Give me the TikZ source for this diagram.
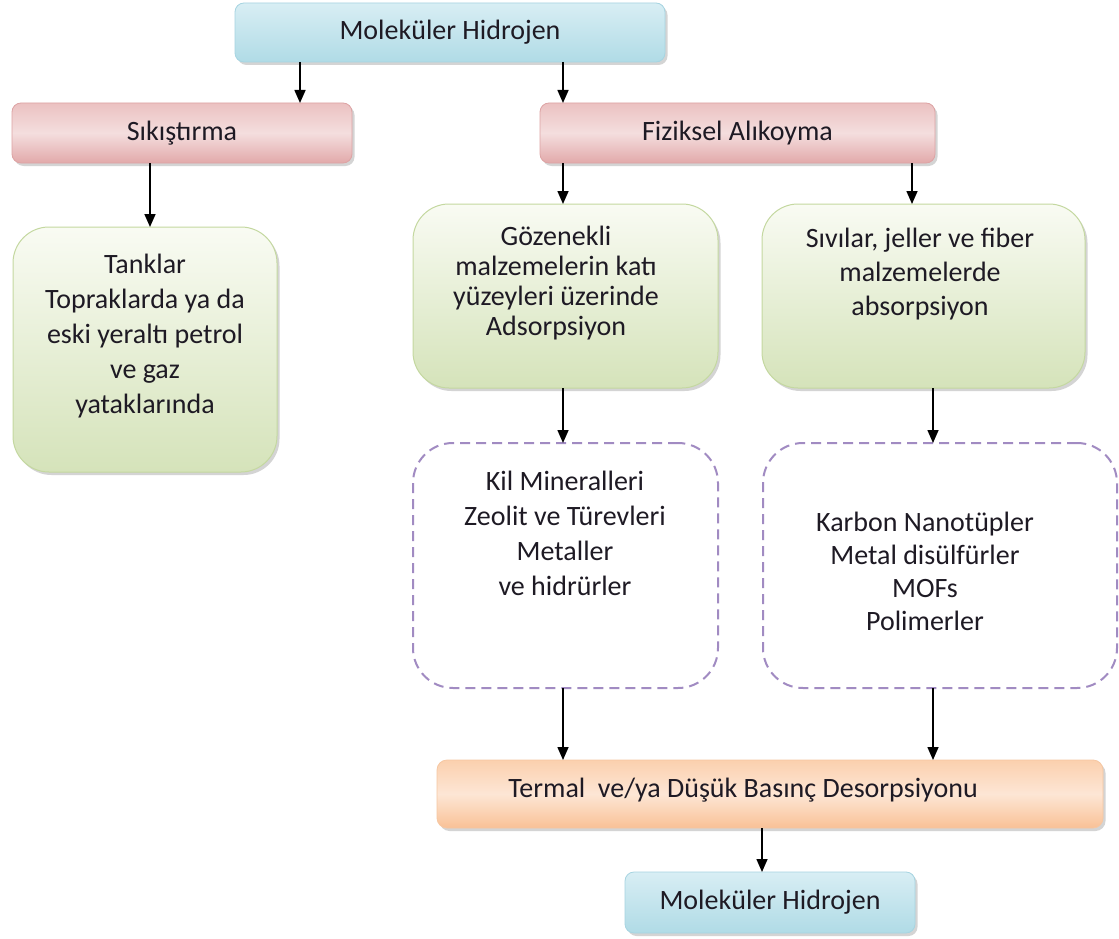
\documentclass[tikz,border=0pt]{standalone}
\usepackage{fontspec}
\setmainfont{Carlito}
\usetikzlibrary{shadows,arrows.meta}
\definecolor{txt}{HTML}{1E1A24}
\definecolor{bluetop}{HTML}{D8EEF4}
\definecolor{bluebot}{HTML}{B0DBE6}
\definecolor{blueline}{HTML}{A6D4E1}
\definecolor{redtop}{HTML}{EBC1C1}
\definecolor{redmid}{HTML}{F4DEDE}
\definecolor{redbot}{HTML}{E2A9AA}
\definecolor{redline}{HTML}{DDA3A4}
\definecolor{greentop}{HTML}{F9FBF3}
\definecolor{greenbot}{HTML}{D5E3BA}
\definecolor{greenline}{HTML}{C4D8A0}
\definecolor{orangetop}{HTML}{FBD0AE}
\definecolor{orangemid}{HTML}{FDE6D5}
\definecolor{orangebot}{HTML}{F9C196}
\definecolor{orangeline}{HTML}{F6C7A2}
\definecolor{purp}{HTML}{A18BC2}
\begin{document}
\begin{tikzpicture}[x=1pt,y=-1pt,
  every node/.style={inner sep=0pt,outer sep=0pt,text=txt,font=\fontsize{28}{35}\selectfont},
  shad/.style={drop shadow={shadow xshift=2.5pt,shadow yshift=-3pt,opacity=0.28,fill=black!60}},
  bluebox/.style={rectangle,rounded corners=9pt,draw=blueline,line width=0.8pt,top color=bluetop,bottom color=bluebot,shad},
  redbox/.style={rectangle,rounded corners=9pt,draw=redline,line width=0.8pt,top color=redtop,bottom color=redbot,middle color=redmid,shad},
  greenbox/.style={rectangle,rounded corners=36pt,draw=greenline,line width=1pt,top color=greentop,bottom color=greenbot,shad},
  dashbox/.style={rectangle,rounded corners=40pt,draw=purp,line width=2pt,dash pattern=on 10pt off 6pt},
  orangebox/.style={rectangle,rounded corners=10pt,draw=orangeline,line width=0.8pt,top color=orangetop,bottom color=orangebot,middle color=orangemid,shad},
  arr/.style={draw=black,line width=1.6pt,-{Triangle[width=11pt,length=13pt]}}
]
\useasboundingbox (0,0) rectangle (1119,939);
\fill[white] (0,0) rectangle (1119,939);
% boxes
\node[bluebox,minimum width=430pt,minimum height=59pt] (top) at (450,32.5) {Molek\"uler Hidrojen};
\node[redbox,minimum width=340pt,minimum height=60pt] (sik) at (182,133) {S\i k\i \c st\i rma};
\node[redbox,minimum width=395pt,minimum height=60pt] (fiz) at (737.5,133) {Fiziksel Al\i koyma};
\node[greenbox,minimum width=264pt,minimum height=245pt] (tank) at (145,349.5) {};
\node[greenbox,minimum width=305pt,minimum height=184pt] (goz) at (565.5,296) {};
\node[greenbox,minimum width=323pt,minimum height=184pt] (siv) at (923.5,296) {};
\node[dashbox,minimum width=305pt,minimum height=245pt] (kil) at (565.5,565.5) {};
\node[dashbox,minimum width=354pt,minimum height=245pt] (kar) at (940,565.5) {};
\node[orangebox,minimum width=666pt,minimum height=68pt] (ter) at (770,794) {};
\node[bluebox,minimum width=290pt,minimum height=61pt] (bot) at (770,902.5) {Molek\"uler Hidrojen};
% texts
\node[align=center] (tanktxt) at (145,336) {Tanklar\\Topraklarda ya da\\eski yeralt\i\ petrol\\ve gaz\\yataklar\i nda};
\node[align=center,font=\fontsize{28}{30}\selectfont] (goztxt) at (556,283) {G\"ozenekli\\malzemelerin kat\i\\y\"uzeyleri \"uzerinde\\Adsorpsiyon};
\node[align=center,font=\fontsize{28}{34}\selectfont] (sivtxt) at (920,274) {S\i v\i lar, jeller ve fiber\\malzemelerde\\absorpsiyon};
\node[align=center] (kiltxt) at (565,533) {Kil Mineralleri\\Zeolit ve T\"urevleri\\Metaller\\ve hidr\"urler};
\node[align=center,font=\fontsize{28}{33}\selectfont] (kartxt) at (925,571) {Karbon Nanot\"upler\\Metal dis\"ulf\"urler\\MOFs\\Polimerler};
\node (tertxt) at (743,790) {Termal\ \ ve/ya D\"u\c s\"uk Bas\i n\c c Desorpsiyonu};
% x guides
\coordinate (x150) at (150,0);
\coordinate (x300) at (300,0);
\coordinate (x563) at (563,0);
\coordinate (x912) at (912,0);
\coordinate (x933) at (933,0);
\coordinate (x762) at (762,0);
% arrows
\draw[arr] (top.south -| x300) -- (sik.north -| x300);
\draw[arr] (top.south -| x563) -- (fiz.north -| x563);
\draw[arr] (sik.south -| x150) -- (tank.north -| x150);
\draw[arr] (fiz.south -| x563) -- (goz.north -| x563);
\draw[arr] (fiz.south -| x912) -- (siv.north -| x912);
\draw[arr] (goz.south -| x563) -- (kil.north -| x563);
\draw[arr] (siv.south -| x933) -- (kar.north -| x933);
\draw[arr] (kil.south -| x563) -- (ter.north -| x563);
\draw[arr] (kar.south -| x933) -- (ter.north -| x933);
\draw[arr] (ter.south -| x762) -- (bot.north -| x762);
\end{tikzpicture}
\end{document}
